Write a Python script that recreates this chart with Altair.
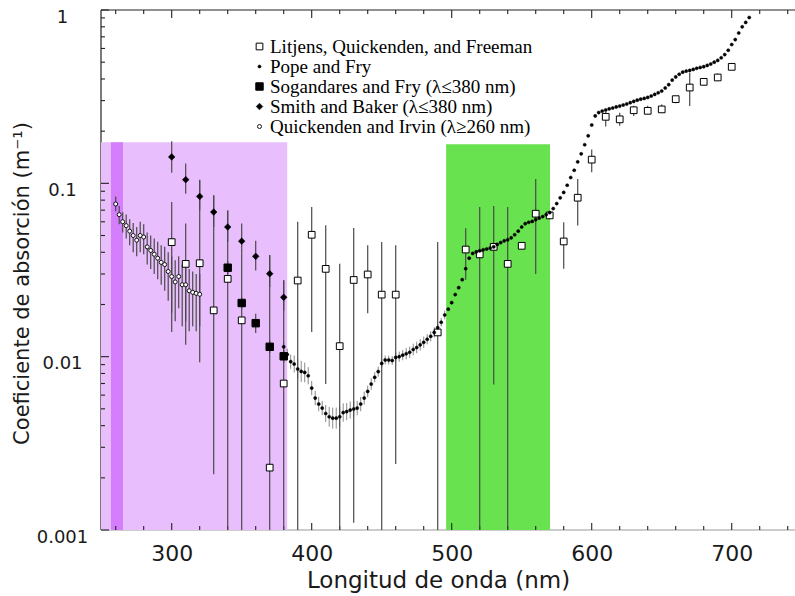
import altair as alt
import pandas as pd

# ---------------- data ----------------
series_order = [
    "Litjens, Quickenden, and Freeman",
    "Pope and Fry",
    "Sogandares and Fry (λ≤380 nm)",
    "Smith and Baker (λ≤380 nm)",
    "Quickenden and Irvin (λ≥260 nm)",
]

# Pope and Fry (2.5 nm steps)
pf_wl = [
    380, 382.5, 385, 387.5, 390, 392.5, 395, 397.5, 400, 402.5,
    405, 407.5, 410, 412.5, 415, 417.5, 420, 422.5, 425, 427.5,
    430, 432.5, 435, 437.5, 440, 442.5, 445, 447.5, 450, 452.5,
    455, 457.5, 460, 462.5, 465, 467.5, 470, 472.5, 475, 477.5,
    480, 482.5, 485, 487.5, 490, 492.5, 495, 497.5, 500, 502.5,
    505, 507.5, 510, 512.5, 515, 517.5, 520, 522.5, 525, 527.5,
    530, 532.5, 535, 537.5, 540, 542.5, 545, 547.5, 550, 552.5,
    555, 557.5, 560, 562.5, 565, 567.5, 570, 572.5, 575, 577.5,
    580, 582.5, 585, 587.5, 590, 592.5, 595, 597.5, 600, 602.5,
    605, 607.5, 610, 612.5, 615, 617.5, 620, 622.5, 625, 627.5,
    630, 632.5, 635, 637.5, 640, 642.5, 645, 647.5, 650, 652.5,
    655, 657.5, 660, 662.5, 665, 667.5, 670, 672.5, 675, 677.5,
    680, 682.5, 685, 687.5, 690, 692.5, 695, 697.5, 700, 702.5,
    705, 707.5, 710, 712.5,
]
pf_abs = [
    0.0114, 0.0103, 0.00936, 0.00907, 0.00849, 0.00822, 0.00811, 0.00776, 0.00659, 0.00577,
    0.00533, 0.00505, 0.00470, 0.00450, 0.00442, 0.00442, 0.00450, 0.00476, 0.00482, 0.00492,
    0.00499, 0.00505, 0.00533, 0.00577, 0.00630, 0.00695, 0.00760, 0.00820, 0.00914, 0.00957,
    0.00957, 0.00950, 0.00990, 0.01000, 0.01020, 0.01040, 0.01060, 0.01100, 0.01130, 0.01170,
    0.01210, 0.01260, 0.01310, 0.01380, 0.01470, 0.01580, 0.01740, 0.01880, 0.02050, 0.02280,
    0.02500, 0.02780, 0.03220, 0.03700, 0.03940, 0.04020, 0.04080, 0.04140, 0.04180, 0.04230,
    0.04300, 0.04440, 0.04550, 0.04660, 0.04720, 0.04850, 0.05050, 0.05300, 0.05600, 0.05850,
    0.05960, 0.06030, 0.06170, 0.06300, 0.06430, 0.06600, 0.06780, 0.07150, 0.07640, 0.08250,
    0.08860, 0.09750, 0.108, 0.119, 0.133, 0.148, 0.167, 0.188, 0.217, 0.245,
    0.256, 0.261, 0.265, 0.269, 0.272, 0.276, 0.279, 0.283, 0.287, 0.292,
    0.297, 0.302, 0.306, 0.309, 0.313, 0.319, 0.326, 0.333, 0.341, 0.355,
    0.371, 0.394, 0.411, 0.426, 0.438, 0.444, 0.448, 0.454, 0.461, 0.466,
    0.471, 0.479, 0.488, 0.500, 0.512, 0.530, 0.553, 0.586, 0.632, 0.675,
    0.737, 0.800, 0.848, 0.905,
]
# relative uncertainty of the first Pope and Fry points (380-495 nm)
pf_err = [
    0.07, 0.08, 0.10, 0.12, 0.14, 0.15, 0.14, 0.12, 0.10, 0.10,
    0.10, 0.10, 0.12, 0.14, 0.15, 0.15, 0.14, 0.13, 0.12, 0.12,
    0.11, 0.10, 0.10, 0.09, 0.08, 0.08, 0.07, 0.07, 0.06, 0.06,
    0.06, 0.06, 0.07, 0.07, 0.07, 0.08, 0.08, 0.08, 0.08, 0.08,
    0.08, 0.07, 0.07, 0.07, 0.06, 0.06, 0.06,
]

# Litjens, Quickenden and Freeman
lqf_wl = [300, 310, 320, 330, 340, 350, 370, 380, 390, 400, 410, 420, 430, 440,
          450, 460, 490, 510, 520, 530, 540, 550, 560, 570, 580, 590, 600, 610,
          620, 630, 640, 650, 660, 670, 680, 690, 700]
lqf_abs = [0.0458, 0.0343, 0.0346, 0.0185, 0.0281, 0.0162, 0.00229, 0.0070, 0.0275, 0.0505,
           0.0321, 0.0115, 0.0277, 0.0298, 0.0228, 0.0228, 0.0138, 0.0415, 0.0389, 0.0430,
           0.0343, 0.0436, 0.0668, 0.0653, 0.0462, 0.0826, 0.137, 0.242, 0.234, 0.264,
           0.262, 0.267, 0.306, 0.357, 0.385, 0.408, 0.470]
lqf_lo = [0.0139, 0.0117, 0.0093, 0.0021, 0.001, 0.001, 0.001, 0.001, 0.001, 0.0139,
          0.00696, 0.001, 0.0011, 0.0178, 0.001, 0.0024, 0.001, 0.0278, 0.001, 0.0069,
          0.001, 0.0436, 0.030, 0.062, 0.0322, 0.0572, 0.116, 0.213, 0.215, 0.245,
          0.250, 0.255, 0.290, 0.279, 0.370, 0.390, 0.470]
lqf_hi = [0.078, 0.0587, 0.105, 0.085, 0.0698, 0.0392, 0.0386, 0.0276, 0.060, 0.073,
          0.0573, 0.0344, 0.0552, 0.044, 0.0458, 0.044, 0.0458, 0.055, 0.073, 0.074,
          0.073, 0.0436, 0.106, 0.069, 0.0597, 0.106, 0.157, 0.258, 0.255, 0.280,
          0.280, 0.285, 0.315, 0.434, 0.400, 0.430, 0.470]

# Sogandares and Fry
sf_wl = [340, 350, 360, 370, 380]
sf_abs = [0.0326, 0.0204, 0.0156, 0.0114, 0.01005]
sf_lo = [0.0300, 0.0190, 0.0137, 0.0105, 0.0093]
sf_hi = [0.0355, 0.0220, 0.0177, 0.0124, 0.0109]

# Smith and Baker
sb_wl = [300, 310, 320, 330, 340, 350, 360, 370, 380]
sb_abs = [0.142, 0.105, 0.084, 0.0683, 0.056, 0.0464, 0.0379, 0.0301, 0.022]
sb_lo = [0.115, 0.087, 0.0699, 0.0559, 0.0458, 0.0392, 0.0314, 0.0252, 0.0184]
sb_hi = [0.175, 0.130, 0.104, 0.0853, 0.0698, 0.0586, 0.0467, 0.0385, 0.0276]

# Quickenden and Irvin
qi_wl = [260, 262.5, 265, 267.5, 270, 272.5, 275, 277.5, 280, 282.5, 285, 287.5,
         290, 292.5, 295, 297.5, 300, 302.5, 305, 307.5, 310, 312.5, 315, 317.5, 320]
qi_abs = [0.076, 0.066, 0.060, 0.057, 0.053, 0.050, 0.047, 0.050, 0.049, 0.043, 0.041, 0.039,
          0.037, 0.035, 0.034, 0.031, 0.029, 0.027, 0.029, 0.026, 0.026, 0.024, 0.0235, 0.0232, 0.0229]
qi_lo = [0.069, 0.058, 0.052, 0.048, 0.044, 0.040, 0.038, 0.040, 0.039, 0.034, 0.032, 0.030,
         0.028, 0.026, 0.024, 0.021, 0.018, 0.016, 0.019, 0.015, 0.016, 0.014, 0.015, 0.014, 0.015]
qi_hi = [0.084, 0.074, 0.068, 0.066, 0.062, 0.059, 0.056, 0.060, 0.058, 0.052, 0.050, 0.048,
         0.046, 0.044, 0.043, 0.040, 0.038, 0.036, 0.038, 0.034, 0.034, 0.032, 0.031, 0.030, 0.030]

# highlighted spectral bands: start, end (nm), top (m^-1), colour
band_start = [249.5, 256.6, 496.0]
band_end = [382.5, 265.2, 570.2]
band_top = [0.1726, 0.1726, 0.168]
band_color = ["#e8befc", "#d47efc", "#68e24e"]

x_major = [300, 400, 500, 600, 700]
x_minor = [260, 280, 320, 340, 360, 380, 420, 440, 460, 480, 520, 540, 560, 580,
           620, 640, 660, 680, 720, 740]
y_major = [0.001, 0.01, 0.1, 1]
y_minor = [m * d for d in (0.001, 0.01, 0.1) for m in range(2, 10)]

# marker styling per series
marker_shape = ["square", "circle", "square", "diamond", "circle"]
marker_fill = ["white", "black", "black", "black", "white"]
marker_size = [45, 10, 55, 45, 16]
marker_stroke_w = [1, 0.5, 1, 0.5, 0.9]

# ---------------- tables ----------------
points = pd.concat([
    pd.DataFrame({"wl": lqf_wl, "a": lqf_abs, "serie": series_order[0]}),
    pd.DataFrame({"wl": pf_wl, "a": pf_abs, "serie": series_order[1]}),
    pd.DataFrame({"wl": sf_wl, "a": sf_abs, "serie": series_order[2]}),
    pd.DataFrame({"wl": sb_wl, "a": sb_abs, "serie": series_order[3]}),
    pd.DataFrame({"wl": qi_wl, "a": qi_abs, "serie": series_order[4]}),
], ignore_index=True)

pf_n = len(pf_err)
bars = pd.concat([
    pd.DataFrame({"wl": lqf_wl, "lo": lqf_lo, "hi": lqf_hi}),
    pd.DataFrame({"wl": sf_wl, "lo": sf_lo, "hi": sf_hi}),
    pd.DataFrame({"wl": sb_wl, "lo": sb_lo, "hi": sb_hi}),
    pd.DataFrame({"wl": qi_wl, "lo": qi_lo, "hi": qi_hi}),
], ignore_index=True)
pf_bars = pd.DataFrame({
    "wl": pf_wl[:pf_n],
    "lo": [v / (1 + e) for v, e in zip(pf_abs[:pf_n], pf_err)],
    "hi": [v * (1 + e) for v, e in zip(pf_abs[:pf_n], pf_err)],
})
bands = pd.DataFrame({"x0": band_start, "x1": band_end, "y0": [0.001] * 3,
                      "y1": band_top, "c": band_color})

# ---------------- chart ----------------
W, H = 694, 520
SANS = "DejaVu Sans"
TXT = "#1a1a1a"
xs = alt.Scale(domain=[249.5, 745.2], nice=False, zero=False)
ys = alt.Scale(type="log", domain=[0.001, 1], nice=False)

xax = alt.Axis(values=x_major, format="d", domain=False, ticks=False, grid=False,
               labelFont=SANS, labelFontSize=22, labelColor=TXT, labelPadding=13,
               labelFlush=False, labelOverlap=False,
               title="Longitud de onda (nm)", titleFont=SANS, titleFontSize=23,
               titleFontWeight="normal", titleColor=TXT, titleX=337, titleY=50,
               titleAlign="center", titleBaseline="middle")
yax = alt.Axis(values=y_major, format="~g", domain=False, ticks=False, grid=False,
               labelFont=SANS, labelFontSize=18, labelColor=TXT, labelAlign="center",
               labelBaseline="middle", labelPadding=39, labelOffset=7,
               labelOverlap=False, labelFlush=False,
               title="Coeficiente de absorción (m⁻¹)", titleFont=SANS, titleFontSize=21,
               titleFontWeight="normal", titleColor=TXT, titleAngle=270,
               titleX=-79, titleY=273, titleAlign="center", titleBaseline="middle")

X = lambda f: alt.X(f, type="quantitative", scale=xs, axis=xax)
Y = lambda f: alt.Y(f, type="quantitative", scale=ys, axis=yax)

one = pd.DataFrame({"k": [0]})

# frame lines (drawn below the bands)
frame_top = alt.Chart(one).mark_rule(color="#222", strokeWidth=1.2).encode(
    x=alt.value(0), x2=alt.value(W), y=alt.value(0))
frame_left = alt.Chart(one).mark_rule(color="#222", strokeWidth=1.2).encode(
    x=alt.value(0), y=alt.value(0), y2=alt.value(H))
frame_bottom = alt.Chart(one).mark_rule(color="#999", strokeWidth=1.2).encode(
    x=alt.value(0), x2=alt.value(W), y=alt.value(H))

band_layer = alt.Chart(bands).mark_rect().encode(
    x=X("x0"), x2="x1", y=Y("y0"), y2="y1",
    color=alt.Color("c:N", scale=None))

# inward ticks
def xticks(vals, top, length):
    df = pd.DataFrame({"w": vals})
    if top:
        enc = dict(y=alt.value(0), y2=alt.value(length))
    else:
        enc = dict(y=alt.value(H), y2=alt.value(H - length))
    return alt.Chart(df).mark_rule(color="#222", strokeWidth=1.1).encode(x=X("w"), **enc)

def yticks(vals, length):
    df = pd.DataFrame({"v": vals})
    return alt.Chart(df).mark_rule(color="#222", strokeWidth=1.1).encode(
        y=Y("v"), x=alt.value(0), x2=alt.value(length))

tick_layers = [
    xticks(x_major, False, 7), xticks(x_minor, False, 4),
    xticks(x_major, True, 8), xticks(x_minor, True, 4),
    yticks(y_major, 8), yticks(y_minor, 4),
]

err_layer = alt.Chart(bars).mark_rule(color="#4a4a4a", strokeWidth=1.2, clip=True).encode(
    x=X("wl"), y=Y("lo"), y2="hi")
pf_err_layer = alt.Chart(pf_bars).mark_rule(color="#8a8a8a", strokeWidth=1, clip=True).encode(
    x=X("wl"), y=Y("lo"), y2="hi")

legend = alt.Legend(orient="none", legendX=149, legendY=27, title=None,
                    labelFont="Liberation Serif", labelFontSize=19, labelColor="black",
                    labelLimit=0, labelOffset=1, rowPadding=0, padding=0)

def sc(rng):
    return alt.Scale(type="ordinal", domain=series_order, range=rng)

pts_layer = alt.Chart(points).mark_point(opacity=1, clip=True).encode(
    x=X("wl"), y=Y("a"),
    shape=alt.Shape("serie:N", scale=sc(marker_shape), legend=legend),
    fill=alt.Fill("serie:N", scale=sc(marker_fill), legend=legend),
    stroke=alt.Stroke("serie:N", scale=sc(["black"] * 5), legend=legend),
    size=alt.Size("serie:N", scale=sc(marker_size), legend=legend),
    strokeWidth=alt.StrokeWidth("serie:N", scale=sc(marker_stroke_w), legend=legend),
)

chart = alt.layer(
    frame_top, frame_left, frame_bottom, band_layer, *tick_layers,
    pf_err_layer, err_layer, pts_layer,
).properties(
    width=W, height=H,
    autosize=alt.AutoSizeParams(type="none"),
    padding={"left": 101, "top": 10, "right": 0, "bottom": 66},
    background="white",
).configure_view(stroke=None)

chart.save("out.html", embed_options={"renderer": "svg", "actions": False})
